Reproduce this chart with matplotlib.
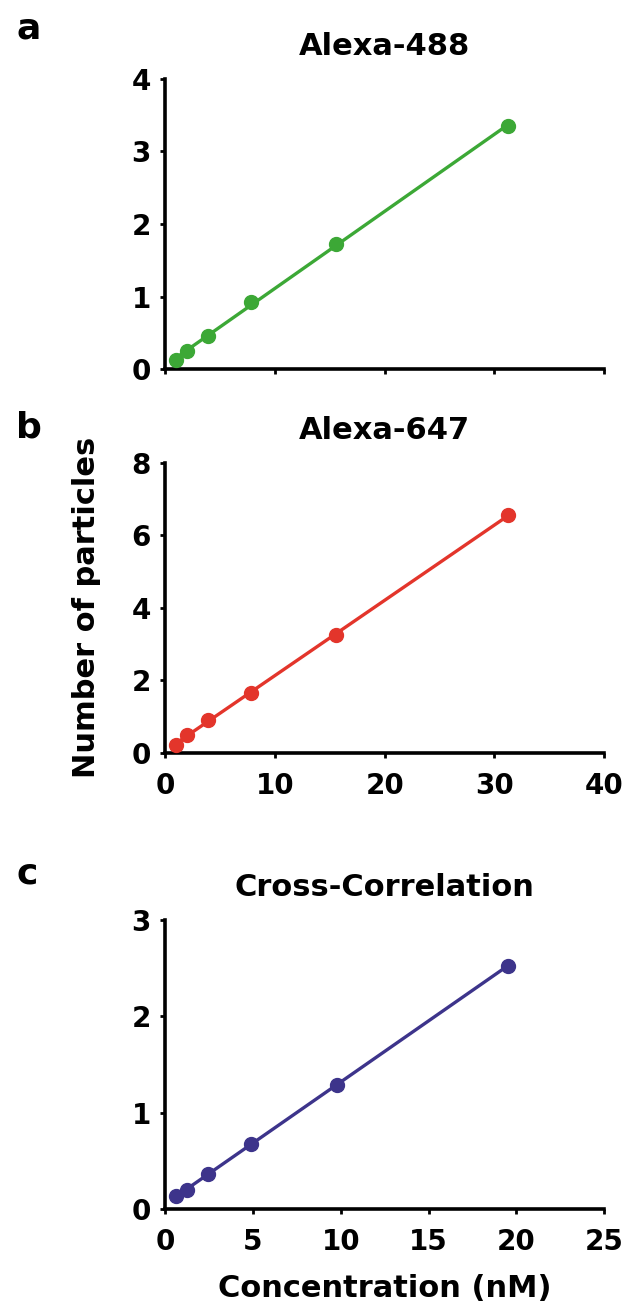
import numpy as np
import matplotlib.pyplot as plt

plt.rcParams['font.family'] = ['DejaVu Sans']
plt.rcParams['font.weight'] = 'bold'

# concentrations (nM) and fitted particle numbers for each channel
conc_488 = [0.98, 1.95, 3.9, 7.8, 15.6, 31.25]
n_488 = [0.13, 0.25, 0.46, 0.92, 1.73, 3.35]

conc_647 = [0.98, 1.95, 3.9, 7.8, 15.6, 31.25]
n_647 = [0.23, 0.48, 0.92, 1.66, 3.26, 6.55]

conc_cc = [0.61, 1.22, 2.44, 4.88, 9.77, 19.5]
n_cc = [0.13, 0.20, 0.36, 0.67, 1.29, 2.52]

panels = [
    dict(letter='a', title='Alexa-488', x=conc_488, y=n_488, color='#3ca836',
         xlim=(0, 40), xticks=[0, 10, 20, 30, 40], ylim=(0, 4), yticks=[0, 1, 2, 3, 4],
         show_xlabels=False, rect=[0.264, 0.719, 0.701, 0.221], letter_y=0.971),
    dict(letter='b', title='Alexa-647', x=conc_647, y=n_647, color='#e3352b',
         xlim=(0, 40), xticks=[0, 10, 20, 30, 40], ylim=(0, 8), yticks=[0, 2, 4, 6, 8],
         show_xlabels=True, rect=[0.264, 0.427, 0.701, 0.221], letter_y=0.667),
    dict(letter='c', title='Cross-Correlation', x=conc_cc, y=n_cc, color='#3d348b',
         xlim=(0, 25), xticks=[0, 5, 10, 15, 20, 25], ylim=(0, 3), yticks=[0, 1, 2, 3],
         show_xlabels=True, rect=[0.264, 0.080, 0.701, 0.220], letter_y=0.328),
]

fig = plt.figure(figsize=(6.26, 13.14), dpi=100)

for p in panels:
    ax = fig.add_axes(p['rect'])
    x = np.array(p['x'])
    y = np.array(p['y'])
    # linear fit drawn across the measured range
    slope, icpt = np.polyfit(x, y, 1)
    xf = np.array([x.min(), x.max()])
    ax.plot(xf, slope * xf + icpt, color=p['color'], lw=2.4, zorder=2)
    ax.plot(x, y, 'o', color=p['color'], ms=10, zorder=3, clip_on=False)

    ax.set_xlim(*p['xlim'])
    ax.set_ylim(*p['ylim'])
    ax.set_xticks(p['xticks'])
    ax.set_yticks(p['yticks'])
    if not p['show_xlabels']:
        ax.set_xticklabels([])
    for s in ['top', 'right']:
        ax.spines[s].set_visible(False)
    for s in ['left', 'bottom']:
        ax.spines[s].set_linewidth(2.6)
    ax.tick_params(width=2, length=3.5, labelsize=20)
    ax.tick_params(axis='x', pad=10)
    ax.tick_params(axis='y', pad=7)
    for lab in ax.get_xticklabels() + ax.get_yticklabels():
        lab.set_fontweight('bold')
    ax.set_title(p['title'], fontsize=22, fontweight='bold', pad=17)
    fig.text(0.026, p['letter_y'], p['letter'], fontsize=26, fontweight='bold',
             ha='left', va='baseline')
    p['ax'] = ax

fig.text(0.138, 0.538, 'Number of particles', rotation=90, fontsize=22,
         fontweight='bold', ha='center', va='center')
fig.text(0.615, 0.013, 'Concentration (nM)', fontsize=22, fontweight='bold',
         ha='center', va='baseline')

fig.savefig('out.png', dpi=100)
